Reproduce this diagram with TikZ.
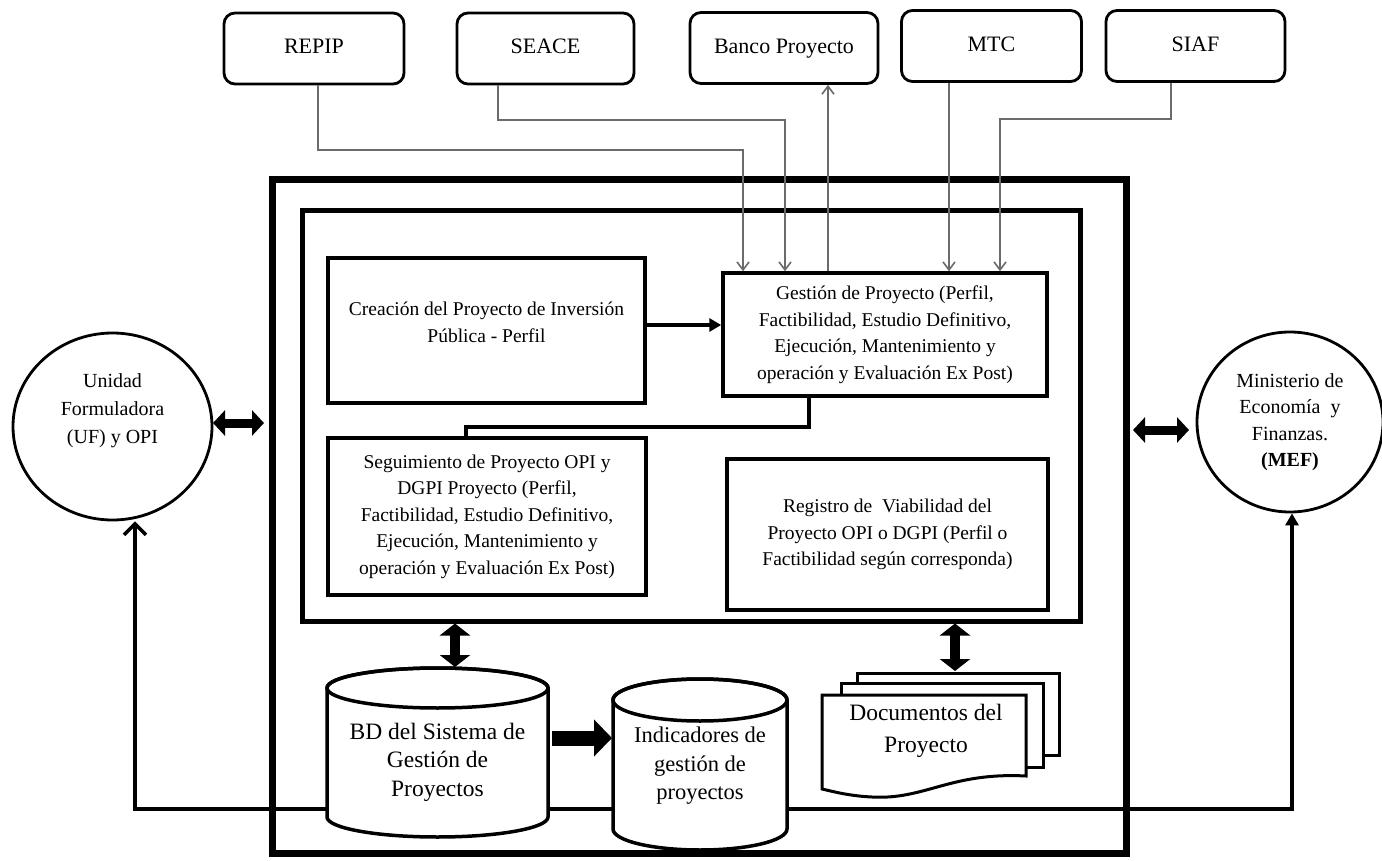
\documentclass[tikz,border=0pt]{standalone}
\usepackage{fontspec}
\setmainfont{Liberation Serif}
\usetikzlibrary{arrows.meta,shapes.geometric}

\begin{document}
\begin{tikzpicture}[x=1pt,y=-1pt,
  sysbox/.style={draw, rounded corners=11pt, line width=2.8pt, minimum height=71pt,
                 minimum width=#1, text height=14pt, text depth=3pt,
                 font=\fontsize{22}{26}\selectfont},
  procbox/.style={draw, line width=3.5pt, align=center, inner sep=0pt,
                  font=\fontsize{19.5}{26.5}\selectfont},
  boxtext/.style={align=center, font=\fontsize{19.5}{26.5}\selectfont},
  entity/.style={draw, ellipse, line width=2.8pt, inner sep=0pt},
  entitytext/.style={align=center, font=\fontsize{20}{28}\selectfont},
  feed/.style={draw=black!58, line width=1.6pt, -{Straight Barb[length=8pt,width=12pt]}},
  flow/.style={line width=3.5pt},
  hbig/.style={line width=9pt, {Triangle[length=12pt,width=25pt]}-{Triangle[length=12pt,width=25pt]}},
  vbig/.style={line width=10pt, {Triangle[length=12pt,width=30pt]}-{Triangle[length=12pt,width=30pt]}},
  cyl/.style={draw, fill=white, line width=3.5pt},
  cyltext/.style={align=center, font=\fontsize{23.5}{28.5}\selectfont},
  sheet/.style={draw, fill=white, line width=3pt},
]
\useasboundingbox (0,0) rectangle (1382,861);
\clip (0,0) rectangle (1382,861);
\fill[white] (0,0) rectangle (1382,861);

% external systems
\node[sysbox=180pt] (repip) at (314,48.5) {REPIP};
\node[sysbox=177pt] (seace) at (545.5,48.5) {SEACE};
\node[sysbox=188pt] (banco) at (784,48) {Banco Proyecto};
\node[sysbox=180pt] (mtc)   at (991.5,46) {MTC};
\node[sysbox=179pt] (siaf)  at (1195.5,46) {SIAF};

% system frames
\node[draw, line width=7pt, minimum width=854pt, minimum height=673pt] (outer) at (699,516.5) {};
\node[draw, line width=5pt, minimum width=778pt, minimum height=410pt] (inner) at (691,416) {};

% processes
\node[procbox, minimum width=317pt, minimum height=145pt,
      label={[boxtext, yshift=8pt]center:Creación del Proyecto de Inversión\\Pública - Perfil}]
      (creacion) at (486.5,330.5) {};
\node[procbox, minimum width=324pt, minimum height=123pt] (gestion) at (885,334.5)
      {Gestión de Proyecto (Perfil,\\Factibilidad, Estudio Definitivo,\\Ejecución, Mantenimiento y\\operación y Evaluación Ex Post)};
\node[procbox, minimum width=318pt, minimum height=157pt] (seguimiento) at (487,516.5)
      {Seguimiento de Proyecto OPI y\\DGPI Proyecto (Perfil,\\Factibilidad, Estudio Definitivo,\\Ejecución, Mantenimiento y\\operación y Evaluación Ex Post)};
\node[procbox, minimum width=321pt, minimum height=151pt] (registro) at (887.5,534.5)
      {Registro de\ \ Viabilidad del\\Proyecto OPI o DGPI (Perfil o\\Factibilidad según corresponda)};

% external entities
\node[entity, minimum width=199pt, minimum height=187pt,
      label={[entitytext, yshift=16pt]center:Unidad\\Formuladora\\(UF) y OPI}]
      (uf) at (112.5,426.5) {};
\node[entity, minimum width=186pt, minimum height=180pt,
      label={[entitytext, font=\fontsize{20}{26.5}\selectfont]center:Ministerio de\\Economía\ \ y\\Finanzas.\\\textbf{(MEF)}}]
      (mef) at (1290,422) {};

% reporting loop along the bottom
\coordinate (fbL) at (135,809);
\coordinate (fbR) at (1292,809);
\draw[flow, {Straight Barb[length=11pt,width=22pt]}-{Triangle[length=12pt,width=13pt]}]
  (uf.south -| fbL) -- (fbL) -- (fbR) -- (mef.south -| fbR);

% databases
\path[cyl] (327,688) -- (327,817) .. controls (327,828.05) and (376.5,837) .. (437.5,837)
  .. controls (498.5,837) and (548,828.05) .. (548,817) -- (548,688)
  .. controls (548,676.95) and (498.5,668) .. (437.5,668)
  .. controls (376.5,668) and (327,676.95) .. (327,688) -- cycle;
\draw[line width=3.5pt] (437.5,688) ellipse [x radius=110.5, y radius=20];
\node[cyltext] (bd) at (437.5,762) {BD del Sistema de\\Gestión de\\Proyectos};

\path[cyl] (613,700) -- (613,829) .. controls (613,840.6) and (651.95,850) .. (700,850)
  .. controls (748.05,850) and (787,840.6) .. (787,829) -- (787,700)
  .. controls (787,688.4) and (748.05,679) .. (700,679)
  .. controls (651.95,679) and (613,688.4) .. (613,700) -- cycle;
\draw[line width=3.5pt] (700,700) ellipse [x radius=87, y radius=21];
\node[cyltext, font=\fontsize{22.5}{28.5}\selectfont] (ind) at (700,766) {Indicadores de\\gestión de\\proyectos};

% project documents
\draw[sheet] (857,673) rectangle (1059,755);
\draw[sheet] (841,683) rectangle (1043,767);
\draw[sheet] (822,695) -- (1026,695) -- (1026,776)
  .. controls (950,772) and (925,800) .. (872,797)
  .. controls (850,796) and (835,792) .. (822,789) -- cycle;
\node[cyltext, font=\fontsize{23.5}{32}\selectfont] (docs) at (926,731) {Documentos del\\Proyecto};

% feeds from and to external systems
\draw[feed] (repip.south -| 318,0) |- (743,150) -- (gestion.north -| 743,0);
\draw[feed] (seace.south -| 498,0) |- (785,120) -- (gestion.north -| 785,0);
\draw[feed] (gestion.north -| 828,0) -- (banco.south -| 828,0);
\draw[feed] (mtc.south -| 949,0) -- (gestion.north -| 949,0);
\draw[feed] (siaf.south -| 1171,0) |- (1000,119) -- (gestion.north -| 1000,0);

% internal flows
\draw[line width=3.5pt, -{Triangle[length=12pt,width=13pt]}] (creacion.east |- 0,325) -- (gestion.west |- 0,325);
\draw[flow] (gestion.south -| 809,0) |- (466,427) -- (seguimiento.north -| 466,0);

% exchanges
\coordinate (bdtop) at (455,667);
\coordinate (doctop) at (955,671);
\draw[vbig] (inner.south -| bdtop) -- (bdtop);
\draw[vbig] (inner.south -| doctop) -- (doctop);
\coordinate (bdright) at (552,738);
\coordinate (indleft) at (612,738);
\draw[line width=15pt, -{Triangle[length=18pt,width=36pt]}] (bdright) -- (indleft);
\coordinate (ufout) at (213,423);
\coordinate (outl) at (264,423);
\draw[hbig] (ufout) -- (outl);
\coordinate (outr) at (1133,430);
\coordinate (mefin) at (1189,430);
\draw[hbig] (outr) -- (mefin);
\end{tikzpicture}
\end{document}
